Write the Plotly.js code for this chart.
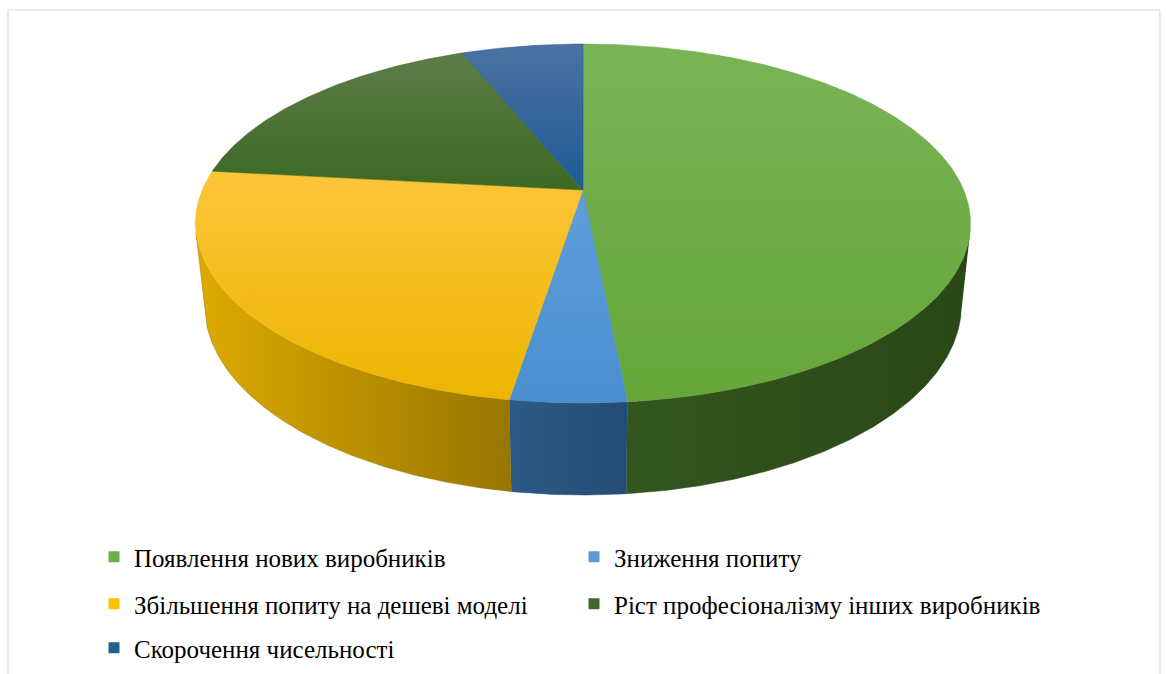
<!DOCTYPE html>
<html>
<head>
<meta charset="utf-8">
<script src="https://cdn.plot.ly/plotly-3.0.1.min.js"></script>
<style>
html,body{margin:0;padding:0;background:#fff;}
#chart{width:1166px;height:674px;}
#chart .legendtext{font-family:'Liberation Serif','Times New Roman',serif !important;}
</style>
</head>
<body>
<div id="chart"></div>
<script>
// ---- data ----
const categories = [
  "Появлення нових виробників",
  "Зниження попиту",
  "Збільшення попиту на дешеві моделі",
  "Ріст професіоналізму інших виробників",
  "Скорочення чисельності"
];
const values = [48, 4, 24, 17, 6];

// ---- styles ----
const topColors = [
  ["#66A639", "#79B457"],
  ["#4A8ED0", "#5FA0DA"],
  ["#EDB500", "#FCC63A"],
  ["#3C6823", "#5E7D49"],
  ["#1E5995", "#4C72A2"]
];
const sideColors = [
  ["#33561F", "#2A4716"],
  ["#2D5B86", "#244B75"],
  ["#DDAA00", "#987600"],
  ["#3C6823", "#3C6823"],
  ["#1E5995", "#1E5995"]
];
const legendColors = ["#70AD47", "#5B9BD5", "#FFC000", "#43682B", "#255E91"];

// ---- perspective projection of a 3D pie ----
const S = 0.4551, C = 0.8905, D = 4.770, T = 0.2413;
function proj(theta, h, r) {
  const X = r * Math.sin(theta), Z = r * Math.cos(theta);
  const depth = -h * S + Z * C + D;
  const up = h * C + Z * S;
  return [X / depth, up / depth];
}
function arc(a0, a1, h) {
  const n = Math.max(2, Math.ceil(Math.abs(a1 - a0) / (Math.PI / 360)));
  const xs = [], ys = [];
  for (let i = 0; i <= n; i++) {
    const p = proj(a0 + (a1 - a0) * i / n, h, 1);
    xs.push(p[0]); ys.push(p[1]);
  }
  return [xs, ys];
}

const total = values.reduce((a, b) => a + b, 0);
const vis0 = Math.acos(-1 / (D * C));
const vis1 = 2 * Math.PI - vis0;

const sideTraces = [], topTraces = [], legendTraces = [];
let acc = 0;
values.forEach((v, i) => {
  const a0 = acc / total * 2 * Math.PI;
  acc += v;
  const a1 = acc / total * 2 * Math.PI;
  // side wall
  const b0 = Math.max(a0, vis0), b1 = Math.min(a1, vis1);
  if (b1 > b0) {
    const t = arc(b0, b1, 0), b = arc(b1, b0, -T);
    sideTraces.push({
      type: "scatter", mode: "lines", x: t[0].concat(b[0]), y: t[1].concat(b[1]),
      fill: "toself", line: {width: 0.5, color: sideColors[i][1]},
      fillcolor: sideColors[i][1],
      fillgradient: {type: "horizontal", colorscale: [[0, sideColors[i][0]], [1, sideColors[i][1]]]},
      showlegend: false, hoverinfo: "skip"
    });
  }
  // top face
  const t = arc(a0, a1, 0);
  topTraces.push({
    type: "scatter", mode: "lines", x: [0].concat(t[0], [0]), y: [0].concat(t[1], [0]),
    fill: "toself", line: {width: 0.5, color: topColors[i][0]},
    fillcolor: topColors[i][0],
    fillgradient: {type: "vertical", colorscale: [[0, topColors[i][0]], [1, topColors[i][1]]]},
    showlegend: false, hoverinfo: "skip", name: categories[i]
  });
  legendTraces.push({
    type: "scatter", mode: "markers", x: [null], y: [null], name: categories[i],
    marker: {symbol: "square", size: 11, color: legendColors[i]},
    legend: i < 2 ? "legend" : (i < 4 ? "legend2" : "legend3"),
    showlegend: true
  });
});

const W = 1166, H = 674, K = 1816, CX = 583, CY = 190;
const SERIF = "Liberation Serif";
function makeLegend(yPix) {
  return {
    orientation: "h", entrywidth: 435, entrywidthmode: "pixels",
    x: 94 / W, xanchor: "left", y: 1 - yPix / H, yanchor: "middle",
    font: {family: SERIF, size: 25, color: "#000000"},
    bgcolor: "rgba(0,0,0,0)"
  };
}
const layout = {
  width: W, height: H, autosize: false,
  margin: {l: 0, r: 0, t: 0, b: 0},
  font: {family: SERIF, color: "#000000"},
  paper_bgcolor: "#fff", plot_bgcolor: "#fff",
  xaxis: {range: [-CX / K, (W - CX) / K], visible: false, fixedrange: true},
  yaxis: {range: [-(H - CY) / K, CY / K], visible: false, fixedrange: true},
  hovermode: false,
  showlegend: true,
  legend: makeLegend(557),
  legend2: makeLegend(604),
  legend3: makeLegend(648),
  shapes: [
    {type: "line", xref: "paper", yref: "paper", x0: 8 / W, x1: 8 / W, y0: -0.02, y1: 1 - 10 / H, line: {color: "#D9DDE3", width: 1.2}},
    {type: "line", xref: "paper", yref: "paper", x0: 8 / W, x1: 1160 / W, y0: 1 - 10 / H, y1: 1 - 10 / H, line: {color: "#D9DDE3", width: 1.2}},
    {type: "line", xref: "paper", yref: "paper", x0: 1160 / W, x1: 1160 / W, y0: -0.02, y1: 1 - 10 / H, line: {color: "#D9DDE3", width: 1.2}}
  ]
};
Plotly.newPlot("chart", sideTraces.concat(topTraces, legendTraces), layout, {displayModeBar: false, staticPlot: true});
</script>
</body>
</html>
